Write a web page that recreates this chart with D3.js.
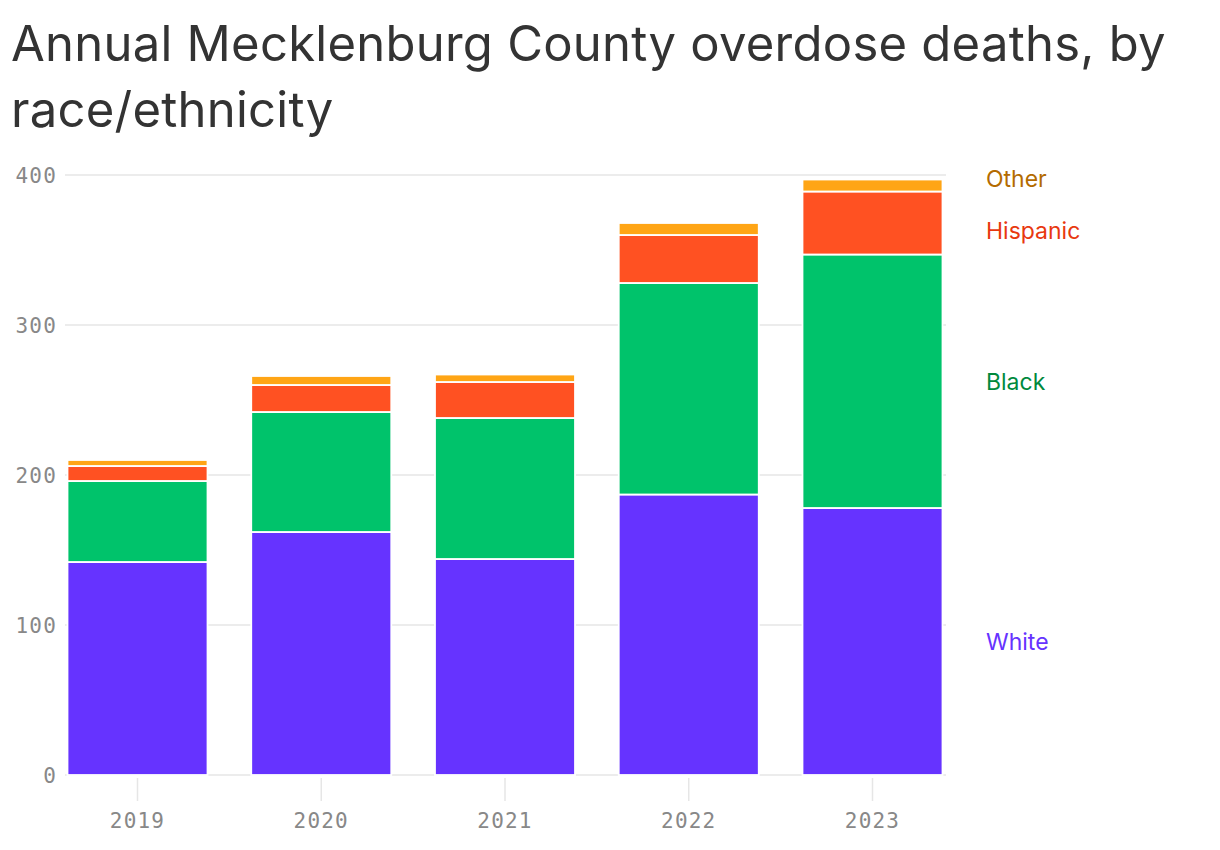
<!DOCTYPE html>
<html>
<head>
<meta charset="utf-8">
<script src="https://cdn.jsdelivr.net/npm/d3@7"></script>
<style>
  html, body { margin: 0; padding: 0; background: #fff; }
  svg { display: block; }
</style>
</head>
<body>
<svg id="chart" width="1220" height="850"></svg>
<script>
const years = ["2019", "2020", "2021", "2022", "2023"];
const seriesNames = ["White", "Black", "Hispanic", "Other"];
const whiteValues = [142, 162, 144, 187, 178];
const blackValues = [54, 80, 94, 141, 169];
const hispanicValues = [10, 18, 24, 32, 42];
const otherValues = [4, 6, 5, 8, 8];
const yTicks = [0, 100, 200, 300, 400];
const titleLines = ["Annual Mecklenburg County overdose deaths, by", "race/ethnicity"];

const fillColors = { White: "#6633ff", Black: "#00c36b", Hispanic: "#ff5122", Other: "#ffa515" };
const labelColors = { White: "#6633ff", Black: "#00893d", Hispanic: "#e8380f", Other: "#b36b00" };

const rows = years.map((y, i) => ({
  year: y, White: whiteValues[i], Black: blackValues[i], Hispanic: hispanicValues[i], Other: otherValues[i]
}));

const svg = d3.select("#chart");

// Title
svg.append("g").selectAll("text").data(titleLines).join("text")
  .attr("x", 11).attr("y", (d, i) => 61 + i * 66)
  .attr("font-family", "Inter, 'Open Sans', sans-serif")
  .attr("font-size", 49).attr("fill", "#333")
  .attr("letter-spacing", 0.25)
  .text(d => d);

const x = d3.scaleBand().domain(years).range([67.5, 942.5]).paddingInner(0.238).paddingOuter(0);
const y = d3.scaleLinear().domain([0, 400]).range([775, 175]);

// Gridlines
svg.append("g").selectAll("line").data(yTicks).join("line")
  .attr("x1", 65).attr("x2", 946)
  .attr("y1", d => y(d)).attr("y2", d => y(d))
  .attr("stroke", "#e6e6e6").attr("stroke-width", 1.5);

const monoFont = "'DejaVu Sans Mono', 'Liberation Mono', monospace";

// Y labels
svg.append("g").selectAll("text").data(yTicks).join("text")
  .attr("x", 57).attr("y", d => y(d)).attr("dy", "0.36em")
  .attr("text-anchor", "end")
  .attr("font-family", monoFont)
  .attr("font-size", 21).attr("letter-spacing", 1.2).attr("fill", "#888")
  .text(d => d);

// X ticks
const xg = svg.append("g");
xg.selectAll("line").data(years).join("line")
  .attr("x1", d => x(d) + x.bandwidth() / 2).attr("x2", d => x(d) + x.bandwidth() / 2)
  .attr("y1", 778).attr("y2", 801)
  .attr("stroke", "#e6e6e6").attr("stroke-width", 1.5);
xg.selectAll("text").data(years).join("text")
  .attr("x", d => x(d) + x.bandwidth() / 2).attr("y", 828)
  .attr("text-anchor", "middle")
  .attr("font-family", monoFont)
  .attr("font-size", 21).attr("letter-spacing", 1.2).attr("fill", "#888")
  .text(d => d);

// Bars
const stack = d3.stack().keys(seriesNames)(rows);
svg.append("g").selectAll("g").data(stack).join("g")
  .attr("fill", d => fillColors[d.key])
  .selectAll("rect").data(d => d).join("rect")
  .attr("x", d => x(d.data.year))
  .attr("width", x.bandwidth())
  .attr("y", d => y(d[1]))
  .attr("height", d => y(d[0]) - y(d[1]))
  .attr("stroke", "#fff").attr("stroke-width", 1.8);

// Direct labels at last bar
const last = stack.map(s => ({ key: s.key, pos: y((s[s.length - 1][0] + s[s.length - 1][1]) / 2) }));
last.sort((a, b) => a.pos - b.pos);
const minGap = 52;
for (let iter = 0; iter < 20; iter++) {
  for (let i = 1; i < last.length; i++) {
    const gap = last[i].pos - last[i - 1].pos;
    if (gap < minGap) {
      const shift = (minGap - gap) / 2;
      last[i - 1].pos -= shift;
      last[i].pos += shift;
    }
  }
}
svg.append("g").selectAll("text").data(last).join("text")
  .attr("x", 986).attr("y", d => d.pos).attr("dy", "0.36em")
  .attr("font-family", "Inter, 'Open Sans', sans-serif")
  .attr("font-size", 23).attr("fill", d => labelColors[d.key])
  .text(d => d.key);
</script>
</body>
</html>
